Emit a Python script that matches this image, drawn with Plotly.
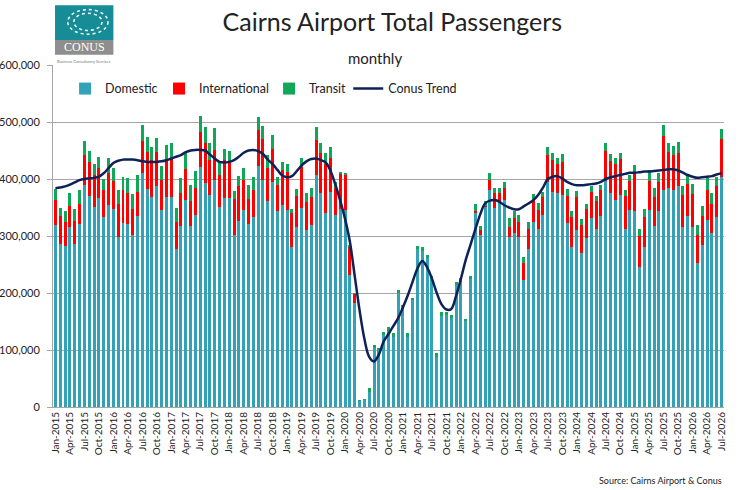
import pandas as pd
import plotly.graph_objects as go

# monthly categories Jan-2015 .. Jul-2026
months = list(pd.date_range("2015-01-01", "2026-07-01", freq="MS").strftime("%b-%Y"))

domestic = [
    319000, 286000, 282000, 315000, 286000, 321000, 389000, 371000, 351000, 366000, 334000, 354000,
    347000, 299000, 322000, 321000, 302000, 335000, 410000, 382000, 369000, 388000, 346000, 368000,
    369000, 277000, 317000, 363000, 317000, 337000, 421000, 393000, 372000, 398000, 351000, 366000,
    366000, 302000, 327000, 346000, 321000, 334000, 423000, 398000, 361000, 395000, 343000, 354000,
    345000, 280000, 316000, 350000, 311000, 319000, 407000, 375000, 340000, 378000, 337000, 347000,
    345000, 232000, 182000, 11000, 13000, 27000, 104000, 100000, 126000, 134000, 123000, 200000,
    175000, 123000, 187000, 277000, 273000, 262000, 226000, 88000, 160000, 162000, 157000, 214000,
    220000, 151000, 225000, 342000, 302000, 352000, 381000, 349000, 360000, 363000, 299000, 305000,
    299000, 223000, 278000, 325000, 312000, 337000, 395000, 378000, 375000, 372000, 322000, 281000,
    311000, 270000, 296000, 331000, 313000, 335000, 396000, 375000, 363000, 372000, 313000, 346000,
    343000, 246000, 281000, 346000, 318000, 343000, 381000, 384000, 381000, 387000, 316000, 335000,
    316000, 252000, 284000, 328000, 306000, 334000, 404000,
]

international = [
    44000, 49000, 43000, 38000, 40000, 36000, 53000, 59000, 56000, 53000, 47000, 56000,
    49000, 57000, 59000, 54000, 45000, 43000, 56000, 66000, 65000, 60000, 52000, 67000,
    68000, 48000, 58000, 54000, 44000, 48000, 61000, 70000, 61000, 53000, 56000, 67000,
    64000, 63000, 61000, 52000, 44000, 47000, 63000, 73000, 58000, 57000, 46000, 61000,
    67000, 60000, 55000, 71000, 49000, 50000, 61000, 70000, 87000, 58000, 47000, 61000,
    62000, 50000, 17000, 0, 0, 0, 0, 0, 0, 0, 0, 0,
    0, 0, 0, 0, 0, 0, 0, 0, 0, 0, 0, 0,
    0, 0, 0, 1000, 9000, 1000, 18000, 26000, 16000, 21000, 17000, 26000,
    26000, 29000, 35000, 38000, 34000, 32000, 47000, 55000, 52000, 57000, 48000, 52000,
    57000, 49000, 51000, 47000, 49000, 46000, 54000, 57000, 63000, 63000, 57000, 50000,
    67000, 54000, 52000, 51000, 50000, 52000, 94000, 64000, 61000, 58000, 56000, 57000,
    58000, 50000, 51000, 53000, 51000, 54000, 66000,
]

transit = [
    19000, 15000, 18000, 23000, 21000, 23000, 24000, 19000, 19000, 20000, 19000, 26000,
    23000, 25000, 23000, 26000, 27000, 29000, 29000, 25000, 22000, 24000, 24000, 25000,
    27000, 25000, 26000, 28000, 29000, 29000, 28000, 29000, 30000, 38000, 23000, 19000,
    19000, 14000, 17000, 22000, 24000, 23000, 23000, 22000, 23000, 25000, 15000, 15000,
    15000, 7000, 11000, 15000, 16000, 16000, 23000, 19000, 18000, 21000, 11000, 4000,
    4000, 2000, 1000, 1000, 1000, 6000, 5000, 4000, 6000, 7000, 7000, 5000,
    4000, 7000, 4000, 5000, 7000, 5000, 4000, 6000, 6000, 5000, 4000, 6000,
    6000, 3000, 4000, 13000, 7000, 8000, 12000, 9000, 9000, 11000, 15000, 12000,
    12000, 12000, 11000, 10000, 12000, 9000, 15000, 13000, 10000, 14000, 12000, 10000,
    11000, 10000, 10000, 9000, 8000, 9000, 14000, 11000, 10000, 10000, 11000, 11000,
    15000, 12000, 14000, 18000, 17000, 15000, 20000, 15000, 16000, 20000, 16000, 15000,
    17000, 17000, 18000, 20000, 19000, 16000, 17000,
]

conus_trend = [
    384000, 385000, 387000, 390000, 394000, 398000, 400000, 401000, 402000, 404000, 410000, 419000,
    428000, 432000, 434000, 434000, 434000, 433000, 431000, 430000, 430000, 430000, 431000, 433000,
    436000, 439000, 442000, 447000, 450000, 451000, 451000, 450000, 443000, 436000, 430000, 429000,
    430000, 433000, 439000, 446000, 450000, 451000, 449000, 444000, 434000, 426000, 416000, 406000,
    403000, 405000, 414000, 424000, 431000, 435000, 436000, 433000, 429000, 414000, 390000, 362000,
    330000, 290000, 230000, 170000, 120000, 88000, 80000, 92000, 115000, 128000, 142000, 156000,
    175000, 196000, 220000, 243000, 256000, 245000, 225000, 200000, 180000, 171000, 172000, 195000,
    225000, 258000, 285000, 312000, 338000, 357000, 362000, 363000, 360000, 354000, 350000, 347000,
    347000, 352000, 357000, 363000, 372000, 385000, 400000, 404000, 405000, 401000, 395000, 391000,
    389000, 389000, 390000, 391000, 392000, 395000, 400000, 403000, 405000, 407000, 409000, 411000,
    411000, 412000, 413000, 413000, 414000, 415000, 416000, 417000, 417000, 415000, 411000, 407000,
    404000, 402000, 403000, 404000, 405000, 408000, 410000,
]

tick_labels = months[::3]

FONT = "Lato"
TXT = "#222222"

fig = go.Figure()

fig.add_trace(go.Bar(x=months, y=domestic, name="Domestic", marker_color="#33A2B6",
                     marker_line_width=0, legend="legend"))
fig.add_trace(go.Bar(x=months, y=international, name="International", marker_color="#FF0000",
                     marker_line_width=0, legend="legend2"))
fig.add_trace(go.Bar(x=months, y=transit, name="Transit", marker_color="#10A858",
                     marker_line_width=0, legend="legend3"))
fig.add_trace(go.Scatter(
    x=months, y=conus_trend, name="Conus Trend", mode="lines",
    line=dict(color="#0E2258", width=2.5, shape="spline", smoothing=1.0),
    legend="legend4",
))

# one legend box per entry so each sits where the reference puts it
leg = dict(orientation="h", y=0.93, xanchor="left", yanchor="middle",
           bgcolor="rgba(0,0,0,0)", font=dict(size=12.5, color=TXT))

fig.update_layout(
    width=750, height=490,
    margin=dict(l=53, r=26, t=65, b=83),
    paper_bgcolor="white", plot_bgcolor="white",
    barmode="stack", bargap=0.38,
    font=dict(family=FONT, color=TXT),
    title=dict(text="Cairns Airport Total Passengers", x=0.523, y=0.955,
               xanchor="center", yanchor="middle", font=dict(size=25, color=TXT)),
    legend=dict(leg, x=0.018),
    legend2=dict(leg, x=0.158),
    legend3=dict(leg, x=0.322),
    legend4=dict(leg, x=0.44),
    showlegend=True,
)

fig.update_xaxes(
    type="category", tickmode="array", tickvals=tick_labels, ticktext=tick_labels,
    tickangle=-90, tickfont=dict(size=10, color=TXT),
    showgrid=False, showline=True, linecolor="#A6A6A6", linewidth=1,
    range=[-0.5, len(months) - 0.5], automargin=False,
)
fig.update_yaxes(
    range=[0, 600000], dtick=100000, tickformat=",",
    tickfont=dict(size=11, color=TXT),
    showgrid=True, gridcolor="#A6A6A6", gridwidth=1,
    showline=True, linecolor="#A6A6A6", linewidth=1,
    ticks="outside", ticklen=5, tickcolor="#A6A6A6",
    ticklabelstandoff=5, automargin=False,
    zeroline=False,
)

# subtitle and source
fig.add_annotation(text="monthly", xref="paper", yref="paper", x=0.48, y=1.053,
                   xanchor="center", showarrow=False, font=dict(size=15, color=TXT))
fig.add_annotation(text="Source: Cairns Airport & Conus", xref="paper", yref="paper",
                   x=1.0, y=-0.215, xanchor="right", yanchor="middle",
                   showarrow=False, font=dict(size=9, color=TXT))

# Conus logo (top left)
fig.add_shape(type="rect", xref="paper", yref="paper", x0=0.003, x1=0.09, y0=1.073, y1=1.175,
              fillcolor="#168C96", line_width=0, layer="above")
fig.add_shape(type="rect", xref="paper", yref="paper", x0=0.003, x1=0.09, y0=1.03, y1=1.073,
              fillcolor="#8E8E8E", line_width=0, layer="above")
for r in [0.030, 0.021]:
    fig.add_shape(type="circle", xref="paper", yref="paper",
                  x0=0.052 - r, x1=0.052 + r, y0=1.126 - r * 1.2, y1=1.126 + r * 1.2,
                  line=dict(color="white", width=1.5, dash="dot"), layer="above")
fig.add_annotation(text="CONUS", xref="paper", yref="paper", x=0.0465, y=1.052,
                   xanchor="center", yanchor="middle", showarrow=False,
                   font=dict(family="Liberation Serif", size=12, color="white"))
fig.add_annotation(text="Business Consultancy Services", xref="paper", yref="paper", x=0.0465, y=1.01,
                   xanchor="center", yanchor="middle", showarrow=False,
                   font=dict(size=4, color="#777777"))

fig.write_html("out.html", config={"displayModeBar": False},
               post_script="document.body.style.margin='0px';")
